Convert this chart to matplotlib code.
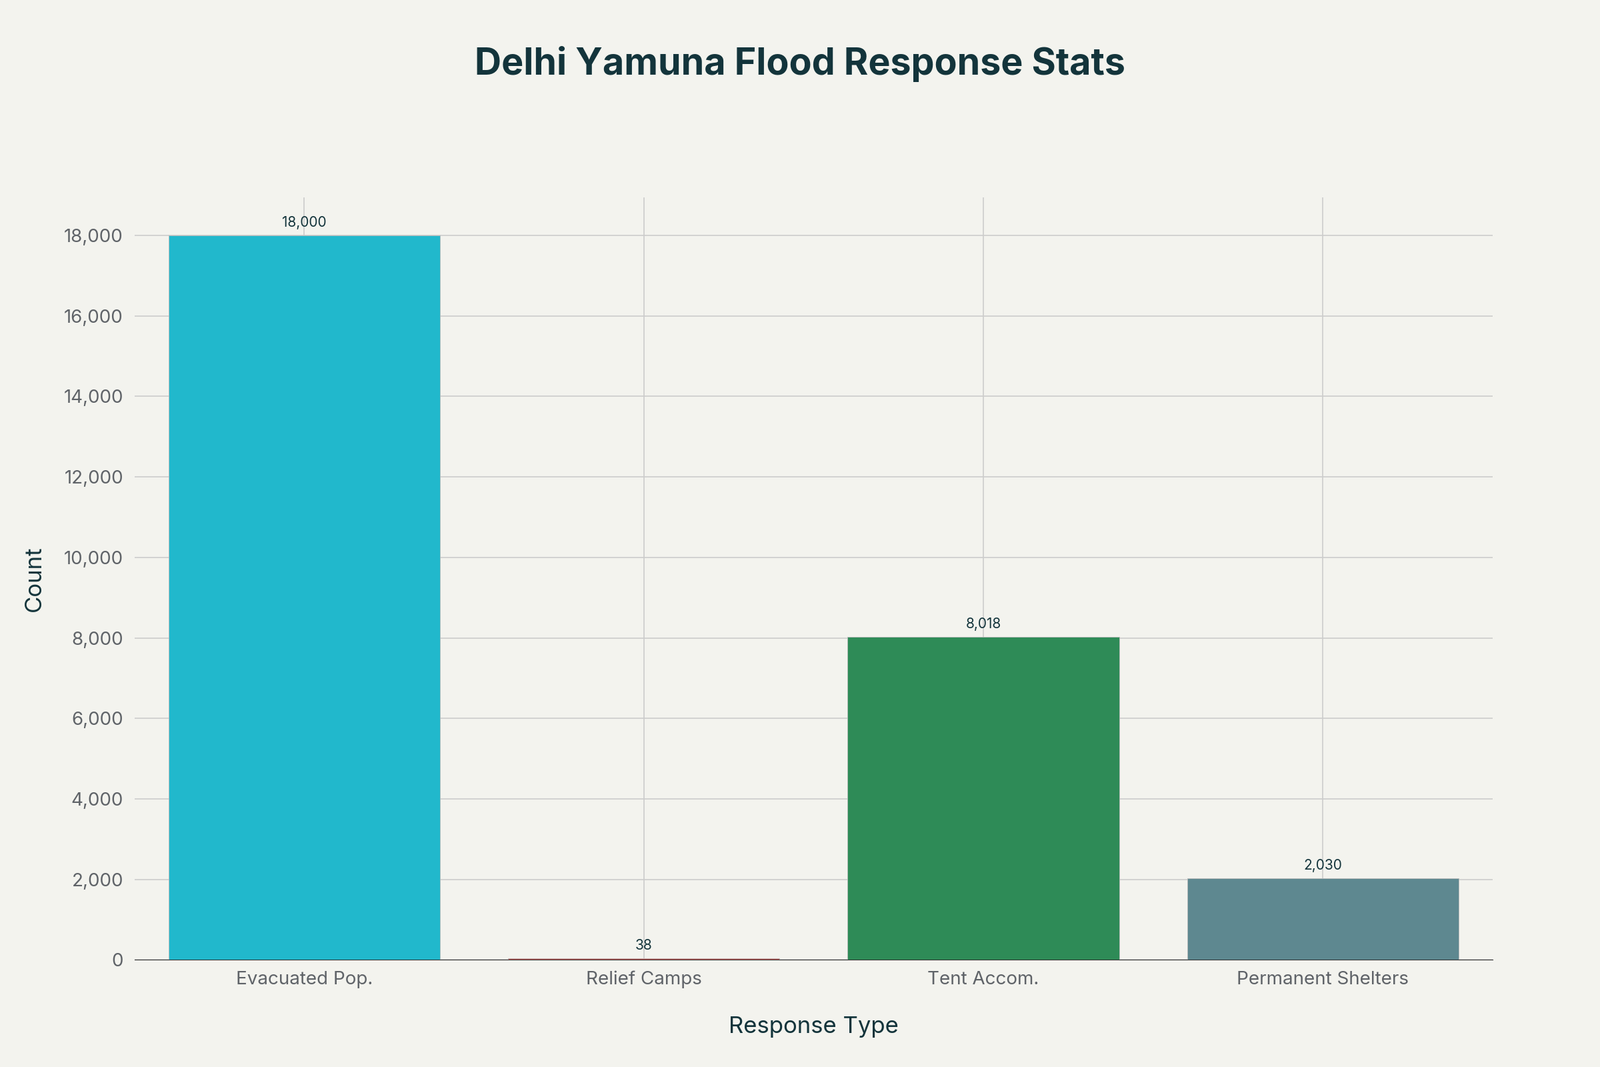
import matplotlib
matplotlib.use("Agg")
import matplotlib.pyplot as plt
from matplotlib.ticker import FuncFormatter

categories = ["Evacuated Pop.", "Relief Camps", "Tent Accom.", "Permanent Shelters"]
values = [18000, 38, 8018, 2030]
colors = ["#21B8CC", "#C0504D", "#2E8B57", "#5E8890"]

plt.rcParams["font.family"] = "Inter"
bg = "#F3F3EE"
fig = plt.figure(figsize=(24, 16), dpi=100, facecolor=bg)
ax = fig.add_axes([0.084, 0.1005, 0.849, 0.7145], facecolor=bg)

x = range(len(categories))
ax.bar(x, values, width=0.8, color=colors, edgecolor="#BBBBBB", linewidth=0.6, zorder=3)
for i, v in zip(x, values):
    ax.text(i, v + 150, f"{v:,}", ha="center", va="bottom", fontsize=15, color="#13343B", zorder=4)

ax.set_xlim(-0.5, 3.5)
ax.set_ylim(0, 18947)
ax.set_xticks(list(x))
ax.set_xticklabels(categories)
ax.set_yticks(range(0, 18001, 2000))
ax.yaxis.set_major_formatter(FuncFormatter(lambda v, p: f"{int(v):,}"))
ax.grid(True, color="#CCCCCC", linewidth=1.2, zorder=0)
for s in ["top", "right", "left"]:
    ax.spines[s].set_visible(False)
ax.spines["bottom"].set_color("#333333")
ax.tick_params(axis="both", labelsize=20, labelcolor="#5F6368", length=0, pad=12)
ax.set_xlabel("Response Type", fontsize=25, color="#13343B", labelpad=30)
ax.set_ylabel("Count", fontsize=25, color="#13343B", labelpad=20)
fig.text(0.5, 0.94, "Delhi Yamuna Flood Response Stats", ha="center", va="center",
         fontsize=40, fontweight="bold", color="#13343B")
fig.savefig("out.png", dpi=100, facecolor=bg)
